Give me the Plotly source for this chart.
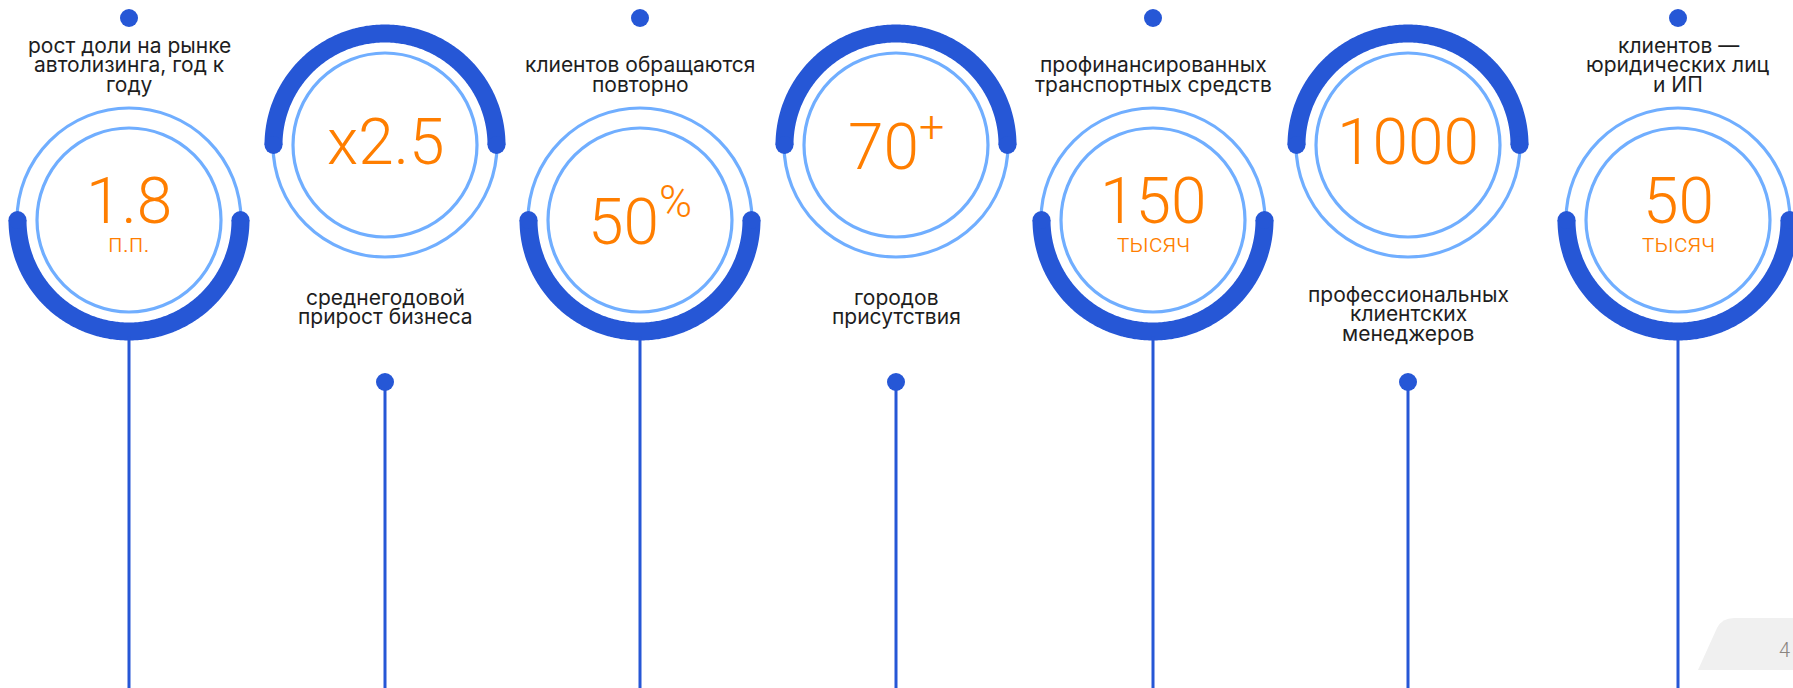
import numpy as np
import plotly.graph_objects as go

# ---------------- data ----------------
values = ["1.8", "x2.5", "50", "70", "150", "1000", "50"]
value_sup = ["", "", "%", "+", "", "", ""]
units = ["п.п.", "", "", "", "тысяч", "", "тысяч"]
captions = [
    ["рост доли на рынке", "автолизинга, год к", "году"],
    ["среднегодовой", "прирост бизнеса"],
    ["клиентов обращаются", "повторно"],
    ["городов", "присутствия"],
    ["профинансированных", "транспортных средств"],
    ["профессиональных", "клиентских", "менеджеров"],
    ["клиентов —", "юридических лиц", "и ИП"],
]
page_number = "4"

# ---------------- layout / style ----------------
W, H = 1793, 688
col_x = [129, 385, 640, 896, 1153, 1408, 1678]
cy_low, cy_high = 220, 145
R_outer, R_inner, R_arc, ARC_W = 112, 92, 111.5, 18
BLUE = "#2657D6"
LIGHT = "#70AEFF"
ORANGE = "#FF7E00"
TEXT = "#1E1E1E"
FONT = "Inter"
NUM_FONT = "Roboto Light, Lato Light, Roboto"

fig = go.Figure()
shapes = []
annotations = []


def arc_path(cx, cy, r, w, a0, a1, n=240):
    th = np.linspace(a0, a1, n)
    ro, ri = r + w / 2, r - w / 2
    pts = [(cx + ro * np.cos(t), cy + ro * np.sin(t)) for t in th]
    pts += [(cx + ri * np.cos(t), cy + ri * np.sin(t)) for t in th[::-1]]
    s = "M " + " L ".join(f"{px:.2f},{py:.2f}" for px, py in pts) + " Z"
    return s, (cx + r * np.cos(a0), cy + r * np.sin(a0)), (cx + r * np.cos(a1), cy + r * np.sin(a1))


for i, x in enumerate(col_x):
    low = (i % 2 == 0)
    cy = cy_low if low else cy_high
    # rings
    for r in (R_outer, R_inner):
        shapes.append(dict(type="circle", xref="x", yref="y",
                           x0=x - r, x1=x + r, y0=cy - r, y1=cy + r,
                           line=dict(color=LIGHT, width=3.2)))
    # thick half arc (filled band with round caps)
    if low:
        p, e0, e1 = arc_path(x, cy, R_arc, ARC_W, 0, np.pi)
    else:
        p, e0, e1 = arc_path(x, cy, R_arc, ARC_W, np.pi, 2 * np.pi)
    shapes.append(dict(type="path", xref="x", yref="y", path=p,
                       fillcolor=BLUE, line=dict(width=0)))
    for ex, ey in (e0, e1):
        shapes.append(dict(type="circle", xref="x", yref="y",
                           x0=ex - ARC_W / 2, x1=ex + ARC_W / 2,
                           y0=ey - ARC_W / 2, y1=ey + ARC_W / 2,
                           fillcolor=BLUE, line=dict(width=0)))
    # dot + vertical line
    if low:
        dot_y = 18
        line_top = cy + R_arc + 5
    else:
        dot_y = 382
        line_top = dot_y
    shapes.append(dict(type="line", xref="x", yref="y", x0=x, x1=x,
                       y0=line_top, y1=H + 5, line=dict(color=BLUE, width=3)))
    shapes.append(dict(type="circle", xref="x", yref="y",
                       x0=x - 9, x1=x + 9, y0=dot_y - 9, y1=dot_y + 9,
                       fillcolor=BLUE, line=dict(width=0)))

    # numbers
    has_unit = units[i] != ""
    num_y = cy - 19 if has_unit else cy - 3
    txt = values[i]
    num_ann = dict(x=x, y=num_y, xref="x", yref="y", text=txt,
                   showarrow=False, xanchor="center", yanchor="middle",
                   font=dict(family=NUM_FONT, size=64, color=ORANGE, weight=300))
    if value_sup[i]:
        num_ann["text"] = values[i] + "<sup>" + value_sup[i] + "</sup>"
    else:
        num_ann["height"] = 52
        num_ann["valign"] = "middle"
    annotations.append(num_ann)
    if has_unit:
        annotations.append(dict(x=x, y=cy + 23, xref="x", yref="y", text=units[i],
                                showarrow=False, xanchor="center", yanchor="middle",
                                height=20, valign="middle",
                                font=dict(family=NUM_FONT, size=26, color=ORANGE, weight=300)))

    # captions
    lines = captions[i]
    if low:
        ys = [84 - 19.3 * (len(lines) - 1 - k) for k in range(len(lines))]
    else:
        start = 297 if len(lines) == 2 else 294
        ys = [start + 19.5 * k for k in range(len(lines))]
    for ly, t in zip(ys, lines):
        annotations.append(dict(x=x, y=ly, xref="x", yref="y", text=t,
                                showarrow=False, xanchor="center", yanchor="middle",
                                font=dict(family=FONT, size=21, color=TEXT)))

# page number tab
shapes.append(dict(type="path", xref="x", yref="y",
                   path="M 1698 670 L 1717 628 Q 1722 618 1734 618 L 1800 618 L 1800 670 Z",
                   fillcolor="#F0F0F0", line=dict(width=0), layer="below"))
annotations.append(dict(x=1784, y=650, xref="x", yref="y", text=page_number,
                        showarrow=False, xanchor="center", yanchor="middle",
                        font=dict(family=NUM_FONT, size=20, color="#8A8580", weight=300)))

fig.update_layout(
    width=W, height=H,
    margin=dict(l=0, r=0, t=0, b=0),
    paper_bgcolor="white", plot_bgcolor="white",
    xaxis=dict(range=[0, W], visible=False, fixedrange=True),
    yaxis=dict(range=[H, 0], visible=False, fixedrange=True),
    shapes=shapes, annotations=annotations,
    showlegend=False,
)

fig.write_html("out.html", config={"displayModeBar": False},
               post_script="document.body.style.margin='0';document.body.style.overflow='hidden';")
